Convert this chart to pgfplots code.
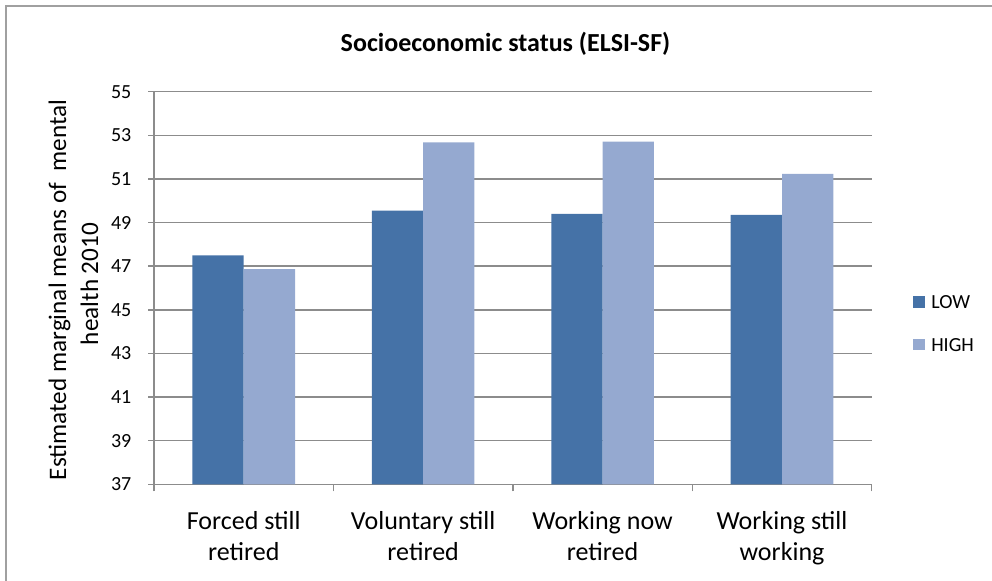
\documentclass[border=0pt]{standalone}
\usepackage{fontspec}
\setmainfont{Carlito}
\usepackage{pgfplots}
\pgfplotsset{compat=1.18}
\definecolor{lowblue}{HTML}{4572A7}
\definecolor{highblue}{HTML}{95A9D0}
\definecolor{gridgray}{HTML}{8C8C8C}
\definecolor{framegray}{HTML}{A0A0A0}
\newcommand{\catfont}{\fontsize{19.5}{23.6}\selectfont}
\newcommand{\labfont}{\fontsize{18.9}{22.7}\selectfont}
\newcommand{\tickfont}{\fontsize{15}{18}\selectfont}

\begin{document}
\begin{tikzpicture}
\useasboundingbox (0,0) rectangle (744pt,435.75pt);
% chart frame (only the top and left edges fall inside the page)
\draw[framegray, line width=1.1pt] (4.5pt,-20pt) -- (4.5pt,431.25pt) -- (780pt,431.25pt);

\node[font=\bfseries\catfont, anchor=base] at (379.1pt,397pt) {Socioeconomic status (ELSI-SF)};
\node[font=\labfont, rotate=90, anchor=base] at (49.5pt,218.25pt) {Estimated marginal means of\ \ mental};
\node[font=\labfont, rotate=90, anchor=base] at (73.5pt,222.75pt) {health 2010};

\begin{axis}[
  at={(115.5pt,72.53pt)}, anchor=south west,
  scale only axis, width=538.3pt, height=294.45pt,
  ybar=0pt, bar width=0.286,
  xmin=-0.5, xmax=3.5, ymin=37, ymax=55,
  ytick={37,39,...,55},
  xtick={0,1,2,3},
  xticklabels={{Forced still\\retired},{Voluntary still\\retired},{Working now\\retired},{Working still\\working}},
  minor xtick={-0.5,0.5,1.5,2.5,3.5},
  major x tick style={draw=none},
  axis x line*=bottom, axis y line*=left,
  axis line style={gridgray, line width=1.1pt, -},
  ymajorgrids, grid style={gridgray, line width=1.1pt},
  tick align=outside, major tick length=4.5pt, minor tick length=5.25pt,
  tick style={gridgray, line width=1.1pt},
  /pgf/number format/assume math mode=true,
  yticklabel style={font=\tickfont, xshift=-9pt},
  xticklabel style={font=\catfont, align=center, yshift=-12pt},
  legend style={draw=none, fill=none, at={(1.0575,0.4096)}, anchor=west,
    font=\tickfont, row sep=22pt, inner sep=0pt,
    nodes={inner sep=0pt, text depth=0pt, anchor=west}},
  legend cell align=left,
  legend image code/.code={\fill[#1, draw=none] (0pt,-4.4pt) rectangle (8.8pt,4.4pt); \path (13.5pt,0pt);},
]
\addplot[fill=lowblue, draw=none] coordinates {(0,47.49) (1,49.55) (2,49.40) (3,49.35)};
\addplot[fill=highblue, draw=none] coordinates {(0,46.86) (1,52.68) (2,52.71) (3,51.23)};
\legend{LOW,HIGH}
\end{axis}
\end{tikzpicture}
\end{document}
